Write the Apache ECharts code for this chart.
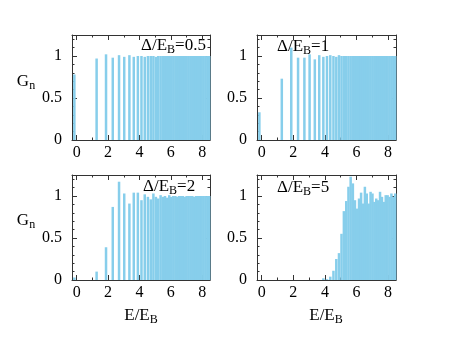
<!DOCTYPE html>
<html>
<head>
<meta charset="utf-8">
<script src="https://cdn.jsdelivr.net/npm/echarts@6/dist/echarts.min.js"></script>
<style>
html,body{margin:0;padding:0;background:#fff;}
#c{width:465px;height:349px;}
</style>
</head>
<body>
<div id="c"></div>
<script>
// Bar positions (E/E_B), shared by all panels
const xPos = [-0.15, 1.27, 1.87, 2.30, 2.70, 3.03, 3.36, 3.64, 3.90, 4.13, 4.34, 4.54, 4.72, 4.89, 5.05, 5.20, 5.35, 5.49, 5.63, 5.77, 5.90, 6.03, 6.16, 6.29, 6.41, 6.53, 6.65, 6.77, 6.89, 7.01, 7.13, 7.25, 7.37, 7.49, 7.61, 7.73, 7.85, 7.97, 8.09, 8.21, 8.33, 8.45];
// G_n for each Δ/E_B
const gD05 = [0.78, 0.97, 1.02, 0.98, 1.01, 0.99, 1.01, 0.99, 1.00, 1.00, 0.99, 1.00, 1.00, 1.00, 0.99, 1.00, 1.00, 1.00, 1.00, 1.00, 1.00, 1.00, 1.00, 1.00, 1.00, 1.00, 1.00, 1.00, 1.00, 1.00, 1.00, 1.00, 1.00, 1.00, 1.00, 1.00, 1.00, 1.00, 1.00, 1.00, 1.00, 1.00];
const gD1 = [0.33, 0.73, 1.10, 0.98, 0.98, 1.02, 0.96, 1.01, 0.99, 1.00, 1.01, 1.00, 0.99, 1.01, 1.00, 1.00, 1.00, 1.00, 1.00, 1.00, 1.00, 1.00, 1.00, 1.00, 1.00, 1.00, 1.00, 1.00, 1.00, 1.00, 1.00, 1.00, 1.00, 1.00, 1.00, 1.00, 1.00, 1.00, 1.00, 1.00, 1.00, 1.00];
const gD2 = [0.03, 0.10, 0.39, 0.87, 1.17, 1.03, 0.91, 1.04, 1.04, 0.95, 1.02, 0.99, 0.96, 1.03, 0.99, 0.97, 1.01, 0.99, 1.00, 0.98, 1.01, 0.99, 1.00, 1.00, 0.99, 1.00, 1.00, 1.00, 0.99, 1.00, 1.00, 1.00, 1.00, 0.99, 1.00, 1.00, 1.00, 1.00, 1.00, 1.00, 1.00, 1.00];
const gD5 = [0, 0, 0, 0, 0, 0, 0, 0, 0.02, 0.01, 0.04, 0.11, 0.25, 0.32, 0.55, 0.82, 0.94, 1.11, 1.23, 1.15, 0.95, 0.85, 0.97, 1.04, 0.91, 1.11, 1.03, 0.91, 1.05, 1.03, 0.93, 0.97, 0.95, 1.05, 0.99, 0.93, 1.01, 1.01, 0.99, 1.03, 0.99, 1.03];
const panelLabels = ['0.5', '1', '2', '5'];
// Ticks
const xMajor = [0, 2, 4, 6, 8];
const xMinor = [1, 3, 5, 7];
const yMajor = [0, 0.5, 1];
const yMinor = [0.1, 0.2, 0.3, 0.4, 0.6, 0.7, 0.8, 0.9, 1.1, 1.2];

const series4 = [gD05, gD1, gD2, gD5];
const FONT = 'Liberation Serif';
const AX = '#333';
const grids = [
  {left: 72, top: 35, width: 138, height: 105},
  {left: 257, top: 35, width: 139, height: 105},
  {left: 72, top: 175, width: 138, height: 105},
  {left: 257, top: 175, width: 139, height: 105}
];

const xAxes = [], yAxes = [], series = [], graphic = [];
grids.forEach((g, gi) => {
  const base = {type: 'value', gridIndex: gi, splitLine: {show: false}};
  const mk = (pos, ticks, len, line, labels, min, max, isX) => Object.assign({}, base, {
    position: pos, min: min, max: max,
    axisLine: {show: line, onZero: false, lineStyle: {color: AX, width: 1}},
    axisTick: {show: true, inside: true, length: len, customValues: ticks, lineStyle: {color: AX, width: 1}},
    axisLabel: labels ? {show: true, customValues: ticks, fontFamily: FONT, fontSize: 16, color: '#000', margin: isX ? 5 : 10,
      formatter: v => String(v)} : {show: false}
  });
  xAxes.push(mk('bottom', xMajor, 5, true, true, -0.3, 8.5, true));
  xAxes.push(mk('bottom', xMinor, 2.5, false, false, -0.3, 8.5, true));
  xAxes.push(mk('top', xMajor, 5, true, false, -0.3, 8.5, true));
  xAxes.push(mk('top', xMinor, 2.5, false, false, -0.3, 8.5, true));
  yAxes.push(mk('left', yMajor, 5, true, true, 0, 1.25, false));
  yAxes.push(mk('left', yMinor, 2.5, false, false, 0, 1.25, false));
  yAxes.push(mk('right', yMajor, 5, true, false, 0, 1.25, false));
  yAxes.push(mk('right', yMinor, 2.5, false, false, 0, 1.25, false));
  series.push({
    type: 'bar', xAxisIndex: gi * 4, yAxisIndex: gi * 4,
    barWidth: 2.5, itemStyle: {color: '#87CEEB'},
    data: xPos.map((x, i) => [x, series4[gi][i]]),
    animation: false, silent: true
  });
});

const rich = {
  t: {fontFamily: FONT, fontSize: 17, fill: '#000', lineHeight: 20},
  s: {fontFamily: FONT, fontSize: 12, fill: '#000', lineHeight: 9, verticalAlign: 'bottom'}
};
const annPos = [[141, 46], [277, 47], [143, 187], [277, 188]];
panelLabels.forEach((lab, i) => {
  graphic.push({type: 'text', x: annPos[i][0], y: annPos[i][1], silent: true,
    style: {text: '{t|Δ/E}{s|B}{t|=' + lab + '}', rich: rich, align: 'left', verticalAlign: 'middle'}});
});
[[26, 82], [26, 221]].forEach(p => {
  graphic.push({type: 'text', x: p[0], y: p[1], silent: true,
    style: {text: '{t|G}{s|n}', rich: rich, align: 'center', verticalAlign: 'middle'}});
});
[[141, 316], [326, 316]].forEach(p => {
  graphic.push({type: 'text', x: p[0], y: p[1], silent: true,
    style: {text: '{t|E/E}{s|B}', rich: rich, align: 'center', verticalAlign: 'middle'}});
});

const chart = echarts.init(document.getElementById('c'), null, {renderer: 'canvas'});
chart.setOption({
  animation: false,
  backgroundColor: '#fff',
  grid: grids,
  xAxis: xAxes,
  yAxis: yAxes,
  series: series,
  graphic: graphic
});
</script>
</body>
</html>
